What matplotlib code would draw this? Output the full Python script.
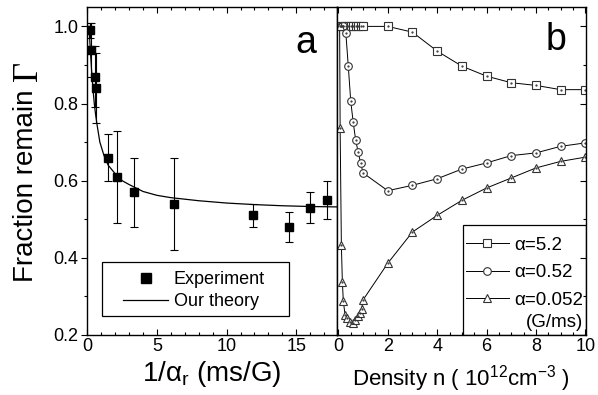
import matplotlib
matplotlib.use("Agg")
import matplotlib.pyplot as plt
from matplotlib.patches import Rectangle
from matplotlib.lines import Line2D
from matplotlib.ticker import MultipleLocator
import numpy as np

plt.rcParams['font.family'] = ['Liberation Sans', 'DejaVu Sans']
plt.rcParams['mathtext.fontset'] = 'custom'
plt.rcParams['mathtext.rm'] = 'Liberation Serif'
plt.rcParams['mathtext.sf'] = 'Liberation Sans'
plt.rcParams['mathtext.it'] = 'Liberation Sans:italic'

# panel a: experiment (1/alpha_r, fraction, error) and theory curve
expX = [0.16, 0.26, 0.57, 0.64, 1.51, 2.15, 3.36, 6.2, 11.87, 14.5, 15.97, 17.2]
expY = [0.99, 0.94, 0.87, 0.84, 0.66, 0.61, 0.57, 0.54, 0.51, 0.48, 0.53, 0.55]
expErr = [0.02, 0.07, 0.08, 0.09, 0.06, 0.12, 0.09, 0.12, 0.03, 0.04, 0.04, 0.05]

thX = [0.12, 0.2, 0.3, 0.4, 0.5, 0.6, 0.7, 0.9, 1.2, 1.5, 2.0, 2.5, 3.0, 4.0,
       5.0, 6.0, 8.0, 10.0, 12.0, 14.0, 16.0, 17.9]
thY = [1.0, 0.95, 0.89, 0.84, 0.80, 0.77, 0.745, 0.70, 0.665, 0.64, 0.618,
       0.60, 0.59, 0.572, 0.562, 0.556, 0.548, 0.542, 0.538, 0.535, 0.533, 0.532]

# panel b: density n (1e12 cm^-3) vs fraction for three ramp rates
sqX = [0.1, 0.2, 0.3, 0.4, 0.5, 0.6, 0.7, 0.8, 0.9, 1.0, 2, 3, 4, 5, 6, 7, 8, 9, 10]
sqY = [1.0, 1.0, 1.0, 1.0, 1.0, 1.0, 1.0, 1.0, 1.0, 1.0, 1.0, 0.985, 0.936,
       0.897, 0.871, 0.854, 0.847, 0.836, 0.836]

ciX = [0.1, 0.2, 0.3, 0.4, 0.5, 0.6, 0.7, 0.8, 0.9, 1.0, 2, 3, 4, 5, 6, 7, 8, 9, 10]
ciY = [1.0, 1.0, 0.984, 0.897, 0.806, 0.751, 0.705, 0.674, 0.646, 0.62, 0.574,
       0.588, 0.605, 0.630, 0.646, 0.665, 0.672, 0.689, 0.698]

trX = [0.05, 0.07, 0.12, 0.16, 0.2, 0.27, 0.33, 0.45, 0.6, 0.67, 0.8, 0.87,
       0.94, 1.0, 2, 3, 4, 5, 6, 7, 8, 9, 10]
trY = [1.0, 0.737, 0.434, 0.338, 0.287, 0.252, 0.243, 0.234, 0.23, 0.239, 0.248,
       0.256, 0.267, 0.291, 0.386, 0.467, 0.51, 0.549, 0.581, 0.607, 0.633,
       0.650, 0.661]

fig = plt.figure(figsize=(5.98, 3.95), dpi=100)
axA = fig.add_axes([0.146, 0.152, 0.417, 0.830])
axB = fig.add_axes([0.563, 0.152, 0.417, 0.830])

for ax in (axA, axB):
    for s in ax.spines.values():
        s.set_linewidth(1.0)
    ax.set_ylim(0.2, 1.05)
    ax.yaxis.set_major_locator(MultipleLocator(0.2))
    ax.yaxis.set_minor_locator(MultipleLocator(0.1))
    ax.tick_params(which='both', labelsize=13, width=0.8, pad=2)
    ax.tick_params(which='major', length=4.5)
    ax.tick_params(which='minor', length=2.5)

# ---- panel a
axA.errorbar(expX, expY, yerr=expErr, fmt='s', color='black', ms=5.5,
             elinewidth=0.8, capsize=3, capthick=0.8)
axA.plot(thX, thY, '-', color='black', lw=0.9)
axA.set_xlim(0, 17.9)
axA.xaxis.set_major_locator(MultipleLocator(5))
axA.xaxis.set_minor_locator(MultipleLocator(1))
axA.tick_params(axis='x', which='both', direction='in', top=True)
axA.tick_params(axis='y', which='both', direction='out', left=True)
axA.tick_params(axis='y', which='both', right=True, labelright=False)
axA.set_yticks([0.2, 0.4, 0.6, 0.8, 1.0])
axA.set_yticklabels(['0.2', '0.4', '0.6', '0.8', '1.0'])
axA.set_xlabel('1/α$_{\\mathsf{r}}$ (ms/G)', fontsize=20, labelpad=3)
# y label: sans text plus a larger serif Gamma
fig.text(33 / 598, 1 - 281.7 / 395, 'Fraction remain', fontsize=20,
         rotation=90, rotation_mode='anchor', ha='left', va='baseline')
fig.text(36.5 / 598, 1 - 81 / 395, 'Γ', fontsize=25, family='Liberation Serif',
         rotation=90, rotation_mode='anchor', ha='left', va='baseline')
axA.text(0.877, 0.89, 'a', transform=axA.transAxes, fontsize=27,
         ha='center', va='center')
axA.add_patch(Rectangle((0.058, 0.059), 0.752, 0.164, transform=axA.transAxes,
                        fill=False, lw=0.9, edgecolor='black'))
hA = [Line2D([], [], ls='none', marker='s', color='black', ms=6.5),
      Line2D([], [], color='black', lw=0.9)]
axA.legend(hA, ['Experiment', 'Our theory'], loc='upper left',
           bbox_to_anchor=(0.143, 0.194), frameon=False,
           fontsize=13, borderpad=0, handlelength=2.5, handletextpad=0.3,
           labelspacing=0.26, borderaxespad=0)

# ---- panel b
mk = dict(color='black', lw=0.7, ms=5.5, mfc='white', mec='#333333', mew=0.8)
axB.plot(sqX, sqY, 's-', label='α=5.2', **mk)
axB.plot(ciX, ciY, 'o-', label='α=0.52', **mk)
axB.plot(trX, trY, '^-', label='α=0.052', **mk)
for xs, ys in ((sqX, sqY), (ciX, ciY), (trX, trY)):
    axB.plot(xs, ys, '.', color='#333333', ms=1.2)
axB.set_xlim(-0.07, 10.03)
axB.xaxis.set_major_locator(MultipleLocator(2))
axB.xaxis.set_minor_locator(MultipleLocator(0.5))
axB.tick_params(axis='x', which='both', direction='in', top=True)
axB.tick_params(axis='y', which='both', direction='in', left=False,
                labelleft=False, right=True)
axB.set_xlabel('Density n ( 10$^{\\mathsf{12}}$cm$^{\\mathsf{-3}}$ )',
               fontsize=16, labelpad=6)
axB.text(0.88, 0.9, 'b', transform=axB.transAxes, fontsize=27,
         ha='center', va='center')
axB.add_patch(Rectangle((0.505, 0.0), 0.495, 0.335, transform=axB.transAxes,
                        fill=False, lw=0.9, edgecolor='black'))
axB.legend(loc='upper left', bbox_to_anchor=(0.518, 0.30), frameon=False,
           fontsize=13.5, borderpad=0, handlelength=2.3, handletextpad=0.3,
           labelspacing=0.56, borderaxespad=0)
axB.text(0.988, 0.037, '(G/ms)', transform=axB.transAxes, fontsize=13.5,
         ha='right', va='center')

fig.savefig('out.png', dpi=100)
